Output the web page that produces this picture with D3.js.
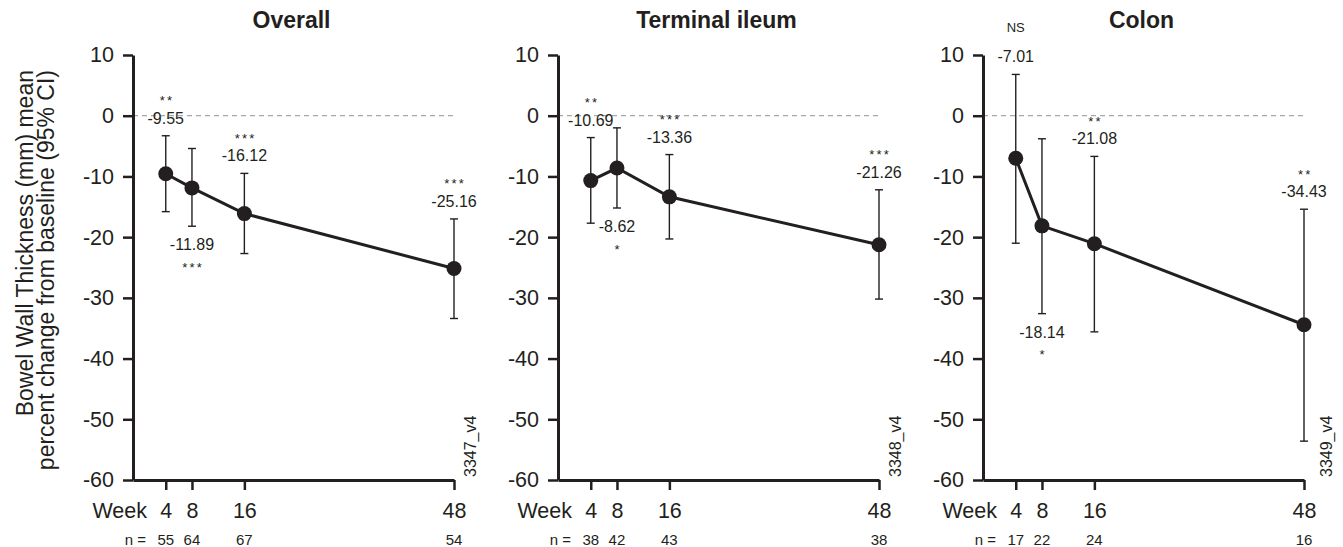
<!DOCTYPE html>
<html>
<head>
<meta charset="utf-8">
<script src="https://cdn.jsdelivr.net/npm/d3@7"></script>
<style>
  html, body { margin: 0; padding: 0; background: #fff; }
  svg { display: block; font-family: "Liberation Sans", Arial, Helvetica, sans-serif; }
</style>
</head>
<body>
<svg id="chart" width="1343" height="547"></svg>
<script>
// ---------- data ----------
const weeks = [4, 8, 16, 48];
const panelTitles = ["Overall", "Terminal ileum", "Colon"];
const yTickValues = [10, 0, -10, -20, -30, -40, -50, -60];

const overallMean  = [-9.55, -11.89, -16.12, -25.16];
const overallLower = [-15.8, -18.2, -22.7, -33.4];
const overallUpper = [-3.3, -5.4, -9.5, -17.0];
const overallSig   = ["**", "***", "***", "***"];
const overallN     = [55, 64, 67, 54];

const ileumMean  = [-10.69, -8.62, -13.36, -21.26];
const ileumLower = [-17.7, -15.2, -20.3, -30.2];
const ileumUpper = [-3.6, -2.0, -6.4, -12.2];
const ileumSig   = ["**", "*", "***", "***"];
const ileumN     = [38, 42, 43, 38];

const colonMean  = [-7.01, -18.14, -21.08, -34.43];
const colonLower = [-21.0, -32.6, -35.6, -53.6];
const colonUpper = [6.8, -3.8, -6.7, -15.4];
const colonSig   = ["NS", "*", "**", "**"];
const colonN     = [17, 22, 24, 16];

const labelBelow = [
  [false, true, false, false],
  [false, true, false, false],
  [false, true, false, false]
];
const figureCodes = ["3347_v4", "3348_v4", "3349_v4"];

const panels = [
  { title: panelTitles[0], mean: overallMean, lower: overallLower, upper: overallUpper, sig: overallSig, n: overallN, below: labelBelow[0], code: figureCodes[0] },
  { title: panelTitles[1], mean: ileumMean, lower: ileumLower, upper: ileumUpper, sig: ileumSig, n: ileumN, below: labelBelow[1], code: figureCodes[1] },
  { title: panelTitles[2], mean: colonMean, lower: colonLower, upper: colonUpper, sig: colonSig, n: colonN, below: labelBelow[2], code: figureCodes[2] }
];

// ---------- layout ----------
const INK = "#231f20";
const svg = d3.select("#chart");
const yTop = 55, yBottom = 480;
const panelStart = 133, panelStep = 425, panelWidth = 321;
const codeOffsets = [22, 22, 28];
const hyphen = v => String(v).replace("\u2212", "-");
const fmtInt = v => hyphen(d3.format("d")(v));
const fmt2 = v => hyphen(d3.format(".2f")(v));

const y = d3.scaleLinear().domain([-60, 10]).range([yBottom, yTop]);

// y-axis title
const yTitle = svg.append("g").attr("transform", `translate(0, 70) rotate(-90)`);
yTitle.append("text").attr("x", 0).attr("y", 33).attr("text-anchor", "end")
  .attr("font-size", 23).attr("fill", INK).text("Bowel Wall Thickness (mm) mean");
yTitle.append("text").attr("x", 0).attr("y", 54).attr("text-anchor", "end")
  .attr("font-size", 23).attr("fill", INK).text("percent change from baseline (95% CI)");

panels.forEach((p, i) => {
  const x0 = panelStart + panelStep * i;
  const x = d3.scaleLinear().domain([-1, 48]).range([x0, x0 + panelWidth]);
  const g = svg.append("g");

  // title
  g.append("text").attr("x", x0 + panelWidth / 2 - 2).attr("y", 28)
    .attr("text-anchor", "middle").attr("font-size", 23).attr("font-weight", "bold")
    .attr("fill", INK).text(p.title);

  // zero reference line
  g.append("line")
    .attr("x1", x0).attr("x2", x(48)).attr("y1", y(0)).attr("y2", y(0))
    .attr("stroke", "#a8a8a8").attr("stroke-width", 1.2).attr("stroke-dasharray", "5,4");

  // y axis
  const yAxis = g.append("g").attr("transform", `translate(${x0},0)`)
    .call(d3.axisLeft(y).tickValues(yTickValues).tickFormat(fmtInt)
      .tickSize(10).tickSizeOuter(0).tickPadding(9));
  yAxis.select(".domain").attr("stroke", INK).attr("stroke-width", 3);
  yAxis.selectAll(".tick line").attr("stroke", INK).attr("stroke-width", 2.5);
  yAxis.selectAll(".tick text").attr("font-size", 21.5).attr("fill", INK)
    .attr("font-family", "Liberation Sans, Arial, sans-serif");

  // x axis
  const xAxis = g.append("g").attr("transform", `translate(0,${yBottom})`)
    .call(d3.axisBottom(x).tickValues(weeks).tickFormat(fmtInt)
      .tickSize(10).tickSizeOuter(0).tickPadding(13));
  xAxis.select(".domain").attr("stroke", INK).attr("stroke-width", 3);
  xAxis.selectAll(".tick line").attr("stroke", INK).attr("stroke-width", 2.5);
  xAxis.selectAll(".tick text").attr("font-size", 21.5).attr("fill", INK)
    .attr("font-family", "Liberation Sans, Arial, sans-serif");

  g.append("text").attr("x", x0 + 14).attr("y", 518).attr("text-anchor", "end")
    .attr("font-size", 21.5).attr("fill", INK).text("Week");

  // n row
  g.append("text").attr("x", x0 + 13).attr("y", 545).attr("text-anchor", "end")
    .attr("font-size", 15).attr("fill", INK).text("n =");
  g.selectAll(".nlab").data(weeks).enter().append("text")
    .attr("x", d => x(d)).attr("y", 545).attr("text-anchor", "middle")
    .attr("font-size", 15).attr("fill", INK).text((d, k) => p.n[k]);

  const pts = weeks.map((w, k) => ({ w, m: p.mean[k], lo: p.lower[k], hi: p.upper[k], s: p.sig[k], below: p.below[k] }));

  // error bars
  const eb = g.selectAll(".eb").data(pts).enter().append("g");
  eb.append("line").attr("x1", d => x(d.w)).attr("x2", d => x(d.w))
    .attr("y1", d => y(d.hi)).attr("y2", d => y(d.lo))
    .attr("stroke", INK).attr("stroke-width", 1.4);
  eb.append("line").attr("x1", d => x(d.w) - 4).attr("x2", d => x(d.w) + 4)
    .attr("y1", d => y(d.hi)).attr("y2", d => y(d.hi))
    .attr("stroke", INK).attr("stroke-width", 1.4);
  eb.append("line").attr("x1", d => x(d.w) - 4).attr("x2", d => x(d.w) + 4)
    .attr("y1", d => y(d.lo)).attr("y2", d => y(d.lo))
    .attr("stroke", INK).attr("stroke-width", 1.4);

  // mean line
  g.append("path").datum(pts)
    .attr("d", d3.line().x(d => x(d.w)).y(d => y(d.m)))
    .attr("fill", "none").attr("stroke", INK).attr("stroke-width", 3);

  // points
  g.selectAll(".pt").data(pts).enter().append("circle")
    .attr("cx", d => x(d.w)).attr("cy", d => y(d.m)).attr("r", 7.5).attr("fill", INK);

  // value labels
  g.selectAll(".val").data(pts).enter().append("text")
    .attr("x", d => x(d.w))
    .attr("y", d => d.below ? y(d.lo) + 24 : y(d.hi) - 12)
    .attr("text-anchor", "middle").attr("font-size", 16).attr("fill", INK)
    .text(d => fmt2(d.m));

  // significance labels
  g.selectAll(".sig").data(pts).enter().append("text")
    .attr("x", d => x(d.w) + (d.s === "NS" ? 0 : 1.2))
    .attr("y", d => {
      const isStar = d.s !== "NS";
      const off = isStar ? 7.5 : -4.7;
      return d.below ? y(d.lo) + 38 + off : y(d.hi) - 38 + off;
    })
    .attr("text-anchor", "middle")
    .attr("font-size", d => d.s === "NS" ? 13 : 13)
    .attr("letter-spacing", d => d.s === "NS" ? 0 : 2.2)
    .attr("fill", INK)
    .text(d => d.s);

  // figure code
  const cx = x(48) + codeOffsets[i];
  g.append("text").attr("transform", `translate(${cx},477) rotate(-90)`)
    .attr("text-anchor", "start").attr("font-size", 16).attr("fill", INK)
    .text(p.code);
});
</script>
</body>
</html>
